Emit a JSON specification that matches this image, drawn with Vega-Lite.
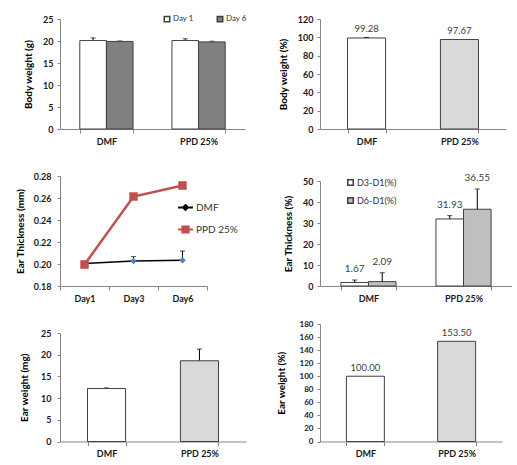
{
  "$schema": "https://vega.github.io/schema/vega-lite/v6.json",
  "padding": {"left": 15, "top": 15, "right": 0, "bottom": 0},
  "columns": 2,
  "spacing": {"row": 38, "column": 74},
  "bounds": "flush",
  "align": "each",
  "resolve": {
    "scale": {"fill": "independent", "color": "independent", "stroke": "independent", "shape": "independent", "size": "independent", "strokeWidth": "independent", "xOffset": "independent"}
  },
  "config": {
    "font": "Lato",
    "view": {"stroke": null},
    "axis": {
      "labelFont": "Lato", "titleFont": "Lato",
      "domainColor": "#868686", "tickColor": "#868686",
      "labelColor": "#1a1a1a", "titleColor": "#000000",
      "labelFontWeight": "bold", "titleFontWeight": "bold",
      "labelFontSize": 9, "titleFontSize": 10,
      "labelOverlap": false, "labelBound": false,
      "grid": false, "tickSize": 3, "labelPadding": 4, "titlePadding": 9
    },
    "axisX": {"tickSize": 4, "labelPadding": 4, "labelAngle": 0, "labelFontSize": 9},
    "legend": {"labelFont": "Lato", "labelColor": "#333333", "labelFontSize": 8, "padding": 0, "titleFontSize": 0}
  },
  "datasets": {
    "bw": [
      {"group": "DMF", "day": "Day 1", "value": 20.1, "hi": 20.7},
      {"group": "DMF", "day": "Day 6", "value": 19.9, "hi": 20.0},
      {"group": "PPD 25%", "day": "Day 1", "value": 20.1, "hi": 20.5},
      {"group": "PPD 25%", "day": "Day 6", "value": 19.8, "hi": 19.95}
    ],
    "bwp": [
      {"group": "DMF", "value": 99.28, "hi": 99.9},
      {"group": "PPD 25%", "value": 97.67, "hi": 97.67}
    ],
    "et": [
      {"series": "DMF", "day": "Day1", "value": 0.2004, "hi": 0.2004},
      {"series": "DMF", "day": "Day3", "value": 0.2027, "hi": 0.2067},
      {"series": "DMF", "day": "Day6", "value": 0.2034, "hi": 0.2118},
      {"series": "PPD 25%", "day": "Day1", "value": 0.1995, "hi": 0.1995},
      {"series": "PPD 25%", "day": "Day3", "value": 0.2613, "hi": 0.2613},
      {"series": "PPD 25%", "day": "Day6", "value": 0.2713, "hi": 0.2713}
    ],
    "etp": [
      {"group": "DMF", "metric": "D3-D1(%)", "value": 1.67, "hi": 2.85},
      {"group": "DMF", "metric": "D6-D1(%)", "value": 2.09, "hi": 6.3},
      {"group": "PPD 25%", "metric": "D3-D1(%)", "value": 31.93, "hi": 33.5},
      {"group": "PPD 25%", "metric": "D6-D1(%)", "value": 36.55, "hi": 46.2}
    ],
    "ew": [
      {"group": "DMF", "value": 12.2, "hi": 12.35},
      {"group": "PPD 25%", "value": 18.6, "hi": 21.3}
    ],
    "ewp": [
      {"group": "DMF", "value": 100.0, "hi": 100.0},
      {"group": "PPD 25%", "value": 153.5, "hi": 153.5}
    ]
  },
  "concat": [
    {
      "width": 185, "height": 110,
      "data": {"name": "bw"},
      "resolve": {"axis": {"y": "independent"}},
      "encoding": {
        "x": {"field": "group", "type": "nominal", "sort": null, "scale": {"paddingInner": 0.422, "paddingOuter": 0.215}, "axis": {"title": null, "tickBand": "extent"}},
        "xOffset": {"field": "day", "type": "nominal", "sort": null, "scale": {"paddingInner": 0, "paddingOuter": 0}}
      },
      "layer": [
        {
          "transform": [{"filter": "datum.hi > datum.value"}],
          "mark": {"type": "rule", "color": "#000000", "strokeWidth": 1},
          "encoding": {"y": {"field": "value", "type": "quantitative", "axis": null}, "y2": {"field": "hi"}}
        },
        {
          "transform": [{"filter": "datum.hi > datum.value"}],
          "mark": {"type": "tick", "color": "#000000", "size": 5, "thickness": 1, "orient": "horizontal"},
          "encoding": {"y": {"field": "hi", "type": "quantitative", "axis": null}}
        },
        {
          "mark": {"type": "bar", "stroke": "#404040", "strokeWidth": 1},
          "encoding": {
            "y": {"field": "value", "type": "quantitative", "scale": {"domain": [0, 25], "nice": false}, "axis": {"title": "Body weight (g)", "values": [0, 5, 10, 15, 20, 25], "tickCount": 20, "format": "d", "labelOverlap": false, "labelBound": false, "labelOpacity": 1}},
            "fill": {"field": "day", "type": "nominal", "sort": null, "scale": {"domain": ["Day 1", "Day 6"], "range": ["#ffffff", "#808080"]},
              "legend": {"title": null, "orient": "none", "direction": "horizontal", "legendX": 103, "legendY": -4, "columnPadding": 20, "symbolSize": 30, "symbolType": "square", "labelOffset": 2, "labelFontSize": 8}}
          }
        }
      ]
    },
    {
      "width": 186, "height": 110,
      "data": {"name": "bwp"},
      "resolve": {"axis": {"y": "independent"}},
      "encoding": {
        "x": {"field": "group", "type": "nominal", "sort": null, "scale": {"paddingInner": 0.59, "paddingOuter": 0.296}, "axis": {"title": null, "tickBand": "extent"}}
      },
      "layer": [
        {
          "mark": {"type": "bar", "stroke": "#404040", "strokeWidth": 1},
          "encoding": {
            "y": {"field": "value", "type": "quantitative", "scale": {"domain": [0, 120], "nice": false}, "axis": {"title": "Body weight (%)", "values": [0, 20, 40, 60, 80, 100, 120], "tickCount": 20, "labelOverlap": false}},
            "fill": {"field": "group", "type": "nominal", "sort": null, "scale": {"range": ["#ffffff", "#d9d9d9"]}, "legend": null}
          }
        },
        {
          "transform": [{"filter": "datum.hi > datum.value"}],
          "mark": {"type": "rule", "color": "#000000", "strokeWidth": 1},
          "encoding": {"y": {"field": "value", "type": "quantitative", "axis": null}, "y2": {"field": "hi"}}
        },
        {
          "transform": [{"filter": "datum.hi > datum.value"}],
          "mark": {"type": "tick", "color": "#000000", "size": 5, "thickness": 1, "orient": "horizontal"},
          "encoding": {"y": {"field": "hi", "type": "quantitative", "axis": null}}
        },
        {
          "mark": {"type": "text", "baseline": "bottom", "dy": -3, "fontSize": 9.5, "color": "#404040", "font": "Lato"},
          "encoding": {"y": {"field": "hi", "type": "quantitative", "axis": null}, "text": {"field": "value", "type": "quantitative", "format": ".2f"}}
        }
      ]
    },
    {
      "width": 147, "height": 119,
      "data": {"name": "et"},
      "resolve": {"axis": {"y": "independent"}},
      "encoding": {
        "x": {"field": "day", "type": "nominal", "sort": null, "scale": {"paddingInner": 0, "paddingOuter": 0}, "axis": {"title": null, "tickBand": "extent"}}
      },
      "layer": [
        {
          "mark": {"type": "line"},
          "encoding": {
            "y": {"field": "value", "type": "quantitative", "scale": {"domain": [0.18, 0.28], "range": [119, 9], "nice": false, "zero": false}, "axis": {"title": "Ear Thickness (mm)", "values": [0.18, 0.2, 0.22, 0.24, 0.26, 0.28], "tickCount": 20, "format": ".2f", "labelPadding": 6, "titlePadding": 8, "labelOverlap": false}},
            "color": {"field": "series", "type": "nominal", "sort": null, "scale": {"domain": ["DMF", "PPD 25%"], "range": ["#000000", "#c0504d"]}, "legend": null},
            "strokeWidth": {"field": "series", "type": "nominal", "sort": null, "scale": {"domain": ["DMF", "PPD 25%"], "range": [1.5, 2.5]}, "legend": null}
          }
        },
        {
          "transform": [{"filter": "datum.hi > datum.value"}],
          "mark": {"type": "rule", "color": "#000000", "strokeWidth": 1},
          "encoding": {"y": {"field": "value", "type": "quantitative", "axis": null}, "y2": {"field": "hi"}}
        },
        {
          "transform": [{"filter": "datum.hi > datum.value"}],
          "mark": {"type": "tick", "color": "#000000", "size": 5, "thickness": 1, "orient": "horizontal"},
          "encoding": {"y": {"field": "hi", "type": "quantitative", "axis": null}}
        },
        {
          "mark": {"type": "point", "filled": true, "opacity": 1, "strokeWidth": 0, "size": 400},
          "encoding": {
            "y": {"field": "value", "type": "quantitative", "axis": null},
            "shape": {"field": "series", "type": "nominal", "sort": null,
              "scale": {"range": ["M-1,0L1,0M0,-0.33L0.33,0L0,0.33L-0.33,0Z", "M-1,0L1,0M-0.42,-0.42L0.42,-0.42L0.42,0.42L-0.42,0.42Z"]},
              "legend": {"title": null, "orient": "none", "legendX": 117, "legendY": 32, "rowPadding": 7, "symbolSize": 256, "labelOffset": 2, "labelFontSize": 10,
                "encoding": {"symbols": {"size": {"value": 220}, "strokeWidth": {"value": 2}}}}},
            "fill": {"field": "series", "type": "nominal", "sort": null, "scale": {"range": ["#4f81bd", "#c0504d"]}},
            "stroke": {"field": "series", "type": "nominal", "sort": null, "scale": {"range": ["#000000", "#c0504d"]}}
          }
        }
      ]
    },
    {
      "width": 192, "height": 119,
      "data": {"name": "etp"},
      "resolve": {"axis": {"y": "independent"}},
      "encoding": {
        "x": {"field": "group", "type": "nominal", "sort": null, "scale": {"paddingInner": 0.42, "paddingOuter": 0.22}, "axis": {"title": null, "tickBand": "extent"}},
        "xOffset": {"field": "metric", "type": "nominal", "sort": null, "scale": {"paddingInner": 0, "paddingOuter": 0}}
      },
      "layer": [
        {
          "mark": {"type": "bar", "stroke": "#404040", "strokeWidth": 1},
          "encoding": {
            "y": {"field": "value", "type": "quantitative", "scale": {"domain": [0, 50], "range": [119, 14], "nice": false}, "axis": {"title": "Ear Thickness (%)", "values": [0, 10, 20, 30, 40, 50], "tickCount": 20, "labelOverlap": false}},
            "fill": {"field": "metric", "type": "nominal", "sort": null, "scale": {"domain": ["D3-D1(%)", "D6-D1(%)"], "range": ["#ffffff", "#bfbfbf"]},
              "legend": {"title": null, "orient": "none", "legendX": 26, "legendY": 11, "rowPadding": 5, "symbolSize": 30, "symbolType": "square", "labelOffset": 2, "labelFontSize": 9}}
          }
        },
        {
          "transform": [{"filter": "datum.hi > datum.value"}],
          "mark": {"type": "rule", "color": "#000000", "strokeWidth": 1},
          "encoding": {"y": {"field": "value", "type": "quantitative", "axis": null}, "y2": {"field": "hi"}}
        },
        {
          "transform": [{"filter": "datum.hi > datum.value"}],
          "mark": {"type": "tick", "color": "#000000", "size": 5, "thickness": 1, "orient": "horizontal"},
          "encoding": {"y": {"field": "hi", "type": "quantitative", "axis": null}}
        },
        {
          "mark": {"type": "text", "baseline": "bottom", "dy": -6, "fontSize": 10, "color": "#404040", "font": "Lato"},
          "encoding": {"y": {"field": "hi", "type": "quantitative", "axis": null}, "text": {"field": "value", "type": "quantitative", "format": ".2f"}}
        }
      ]
    },
    {
      "width": 186, "height": 117.5,
      "data": {"name": "ew"},
      "resolve": {"axis": {"y": "independent"}},
      "encoding": {
        "x": {"field": "group", "type": "nominal", "sort": null, "scale": {"paddingInner": 0.59, "paddingOuter": 0.296}, "axis": {"title": null, "tickBand": "extent"}}
      },
      "layer": [
        {
          "transform": [{"filter": "datum.hi > datum.value"}],
          "mark": {"type": "rule", "color": "#000000", "strokeWidth": 1},
          "encoding": {"y": {"field": "value", "type": "quantitative", "axis": null}, "y2": {"field": "hi"}}
        },
        {
          "transform": [{"filter": "datum.hi > datum.value"}],
          "mark": {"type": "tick", "color": "#000000", "size": 5, "thickness": 1, "orient": "horizontal"},
          "encoding": {"y": {"field": "hi", "type": "quantitative", "axis": null}}
        },
        {
          "mark": {"type": "bar", "stroke": "#404040", "strokeWidth": 1},
          "encoding": {
            "y": {"field": "value", "type": "quantitative", "scale": {"domain": [0, 25], "range": [117.5, 9], "nice": false}, "axis": {"title": "Ear weight (mg)", "values": [0, 5, 10, 15, 20, 25], "tickCount": 20, "format": "d", "labelPadding": 6, "titlePadding": 11, "labelOverlap": false, "labelBound": false, "labelOpacity": 1}},
            "fill": {"field": "group", "type": "nominal", "sort": null, "scale": {"range": ["#ffffff", "#d9d9d9"]}, "legend": null}
          }
        }
      ]
    },
    {
      "width": 182, "height": 117.5,
      "data": {"name": "ewp"},
      "resolve": {"axis": {"y": "independent"}},
      "encoding": {
        "x": {"field": "group", "type": "nominal", "sort": null, "scale": {"paddingInner": 0.584, "paddingOuter": 0.289}, "axis": {"title": null, "tickBand": "extent"}}
      },
      "layer": [
        {
          "mark": {"type": "bar", "stroke": "#404040", "strokeWidth": 1},
          "encoding": {
            "y": {"field": "value", "type": "quantitative", "scale": {"domain": [0, 180], "nice": false}, "axis": {"title": "Ear weight (%)", "values": [0, 20, 40, 60, 80, 100, 120, 140, 160, 180], "tickCount": 20, "labelFontSize": 8, "titlePadding": 13, "labelOverlap": false}},
            "fill": {"field": "group", "type": "nominal", "sort": null, "scale": {"range": ["#ffffff", "#d9d9d9"]}, "legend": null}
          }
        },
        {
          "mark": {"type": "text", "baseline": "bottom", "dy": -3, "fontSize": 9.5, "color": "#404040", "font": "Lato"},
          "encoding": {"y": {"field": "hi", "type": "quantitative", "axis": null}, "text": {"field": "value", "type": "quantitative", "format": ".2f"}}
        }
      ]
    }
  ]
}
